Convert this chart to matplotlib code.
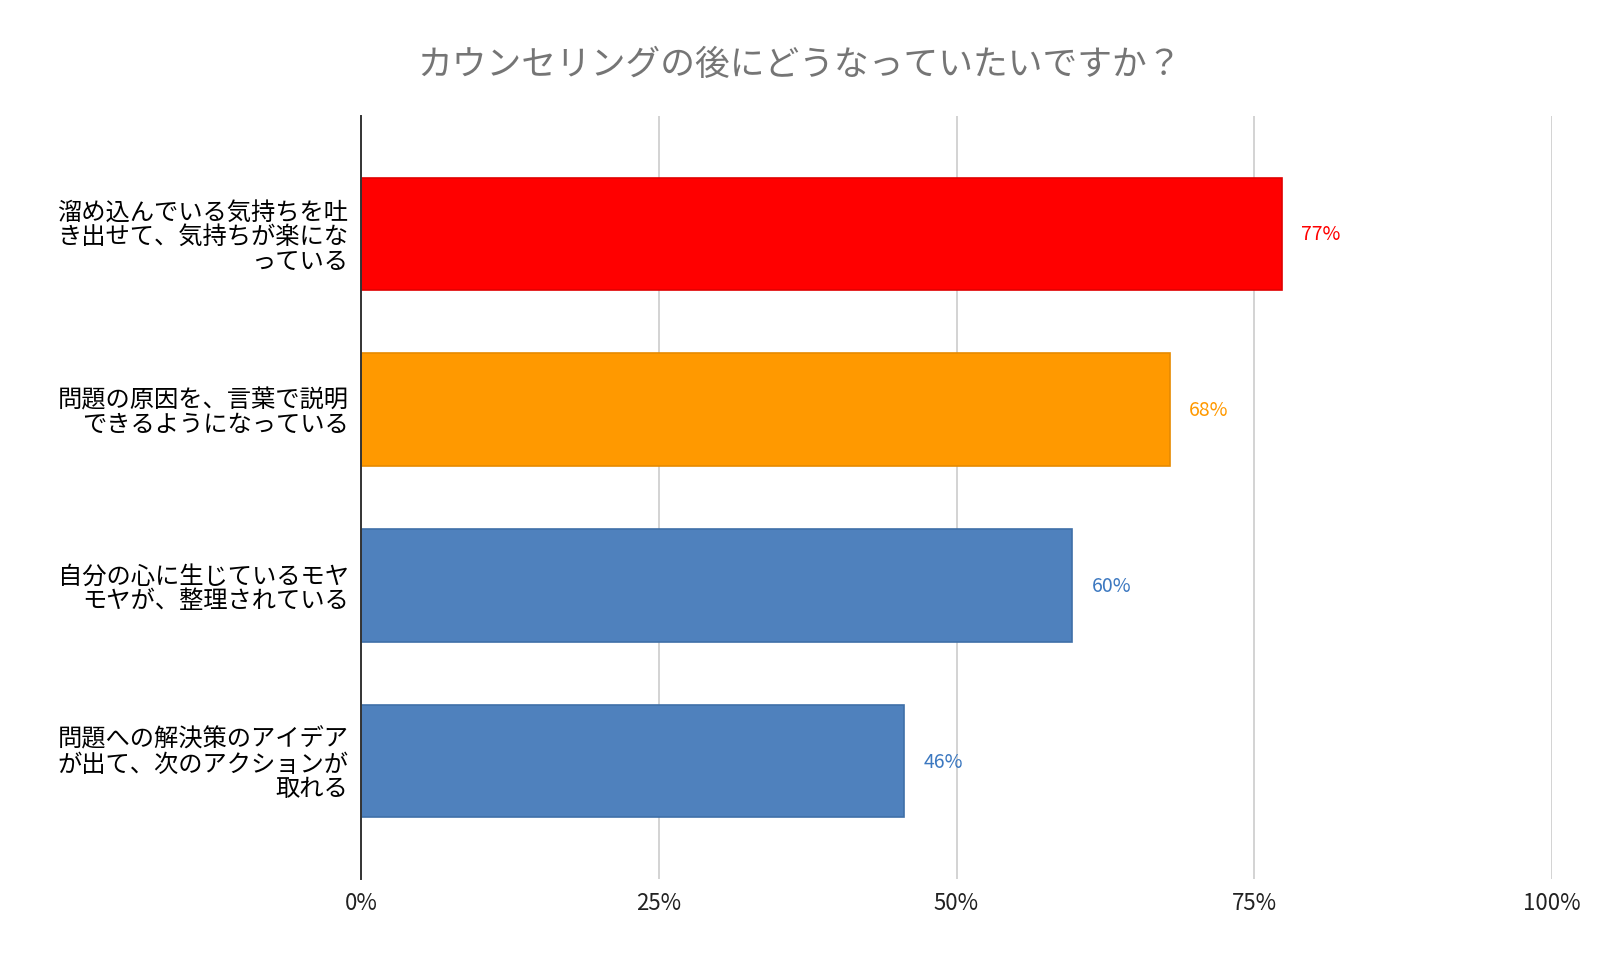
import matplotlib.pyplot as plt
from matplotlib.ticker import FuncFormatter

plt.rcParams['font.family'] = ['Noto Sans CJK JP', 'DejaVu Sans']

title = "カウンセリングの後にどうなっていたいですか？"
labels = [
    "溜め込んでいる気持ちを吐\nき出せて、気持ちが楽にな\nっている",
    "問題の原因を、言葉で説明\nできるようになっている",
    "自分の心に生じているモヤ\nモヤが、整理されている",
    "問題への解決策のアイデア\nが出て、次のアクションが\n取れる",
]
values = [0.773, 0.679, 0.597, 0.456]
value_texts = ["77%", "68%", "60%", "46%"]
colors = ["#FF0000", "#FF9900", "#4F81BD", "#4F81BD"]
edge_colors = ["#E00000", "#E68A00", "#3F70A8", "#3F70A8"]
text_colors = ["#FF0000", "#FF9900", "#3C78C0", "#3C78C0"]
ticks = [0, 0.25, 0.5, 0.75, 1.0]

fig = plt.figure(figsize=(16, 9.62), dpi=100)
ax = fig.add_axes([361 / 1600, 1 - 880 / 962, (1552 - 361) / 1600, (880 - 117) / 962])

pos = list(range(len(labels)))
ax.barh(pos, values, height=0.64, color=colors, edgecolor=edge_colors, linewidth=1.2, zorder=3)

for p, v, t, c in zip(pos, values, value_texts, text_colors):
    ax.annotate(t, (v, p), xytext=(14, 0), textcoords="offset points",
                va="center", ha="left", fontsize=14, color=c)

ax.set_xlim(0, 1.0)
ax.set_ylim(3.67, -0.67)
ax.set_xticks(ticks)
ax.xaxis.set_major_formatter(FuncFormatter(lambda x, _: f"{int(round(x * 100))}%"))
ax.set_yticks(pos)
ax.set_yticklabels(labels, fontsize=17.5, linespacing=0.94, ha="right")
ax.tick_params(axis="both", length=0)
ax.tick_params(axis="x", labelsize=16, pad=9, colors="#222222")
ax.tick_params(axis="y", pad=9)
ax.grid(axis="x", color="#CCCCCC", linewidth=1.2, zorder=0)
for s in ["top", "right", "bottom"]:
    ax.spines[s].set_visible(False)
ax.spines["left"].set_color("#333333")
ax.spines["left"].set_linewidth(1.4)
ax.spines["left"].set_zorder(4)

fig.text(799 / 1600, 1 - 66 / 962, title, ha="center", va="center", fontsize=25, color="#757575")

fig.savefig("out.png", dpi=100)
